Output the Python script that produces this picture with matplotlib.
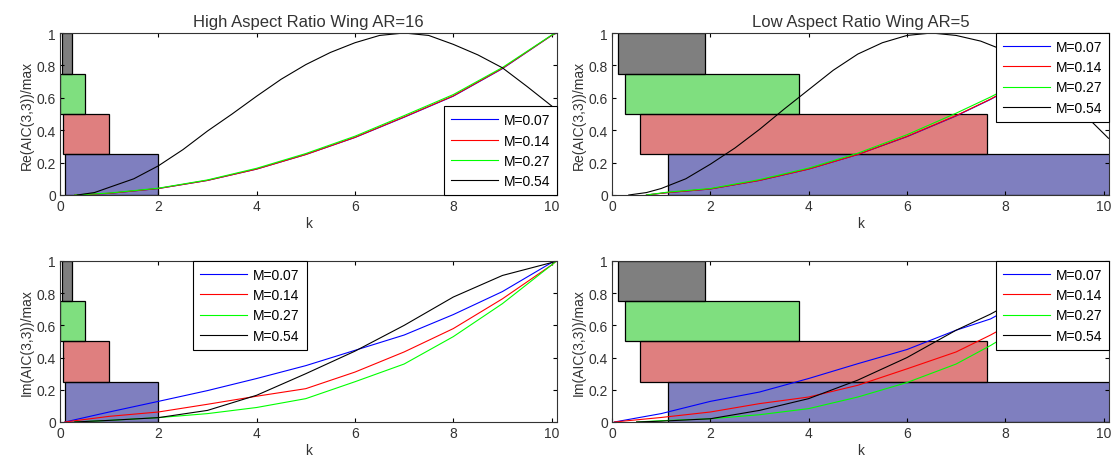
import matplotlib
matplotlib.use("Agg")
import matplotlib.pyplot as plt
from matplotlib.patches import Rectangle

plt.rcParams['font.family'] = ['Liberation Sans', 'DejaVu Sans']
plt.rcParams['font.size'] = 10

mach_labels = ['M=0.07', 'M=0.14', 'M=0.27', 'M=0.54']
line_colors = ['#0000ff', '#ff0000', '#00ff00', '#000000']

# k ranges of the shaded bands (one per Mach number), y band 0-0.25 ... 0.75-1
band_y = [0.0, 0.25, 0.5, 0.75]
band_colors = ['#000080', '#c00000', '#00c000', '#000000']
hi_band_start = [0.10, 0.05, 0.0, 0.03]
hi_band_end = [2.0, 1.0, 0.5, 0.25]
lo_band_start = [1.14, 0.56, 0.27, 0.12]
lo_band_end = [15.0, 7.62, 3.81, 1.89]

# High aspect ratio, real part
hi_re_k = [0.3, 1, 2, 3, 4, 5, 6, 7, 8, 9, 10, 10.1]
hi_re_m007 = [0, 0.010, 0.040, 0.090, 0.160, 0.250, 0.355, 0.480, 0.610, 0.780, 0.985, 1.0]
hi_re_m014 = [0, 0.010, 0.040, 0.090, 0.160, 0.250, 0.356, 0.482, 0.612, 0.782, 0.985, 1.0]
hi_re_m027 = [0, 0.012, 0.042, 0.093, 0.165, 0.256, 0.363, 0.490, 0.620, 0.787, 0.987, 1.0]
hi_re_k054 = [0.35, 0.7, 1, 1.5, 2, 2.5, 3, 3.5, 4, 4.5, 5, 5.5, 6, 6.5, 7, 7.5,
              8, 8.5, 9, 9.5, 10, 10.1]
hi_re_m054 = [0, 0.015, 0.047, 0.10, 0.18, 0.28, 0.395, 0.50, 0.61, 0.715, 0.805, 0.88,
              0.94, 0.985, 1.0, 0.985, 0.93, 0.865, 0.785, 0.67, 0.55, 0.52]

# Low aspect ratio, real part
lo_re_k = [0.7, 1.14, 2, 3, 4, 5, 6, 7, 7.7, 8, 9, 10, 10.1]
lo_re_m007 = [0, 0.015, 0.037, 0.090, 0.160, 0.250, 0.360, 0.488, 0.590, 0.640, 0.810, 0.985, 1.0]
lo_re_m014 = [0, 0.015, 0.037, 0.090, 0.160, 0.250, 0.362, 0.490, 0.592, 0.642, 0.812, 0.985, 1.0]
lo_re_m027 = [0, 0.018, 0.040, 0.095, 0.166, 0.258, 0.372, 0.505, 0.605, 0.652, 0.818, 0.988, 1.0]
lo_re_k054 = [0.34, 0.7, 1, 1.5, 2, 2.5, 3, 3.5, 4, 4.5, 5, 5.5, 6, 6.5, 7, 7.5,
              8, 8.5, 9, 9.5, 10, 10.1]
lo_re_m054 = [0, 0.015, 0.04, 0.10, 0.19, 0.29, 0.405, 0.53, 0.65, 0.77, 0.87, 0.94,
              0.985, 1.0, 0.985, 0.95, 0.89, 0.80, 0.68, 0.53, 0.38, 0.35]

# High aspect ratio, imaginary part
hi_im_k = [0.1, 1, 2, 3, 4, 5, 6, 7, 8, 9, 10, 10.1]
hi_im_m007 = [0, 0.062, 0.128, 0.195, 0.270, 0.350, 0.445, 0.540, 0.667, 0.810, 0.990, 1.0]
hi_im_m014 = [0, 0.035, 0.062, 0.110, 0.160, 0.207, 0.310, 0.435, 0.580, 0.765, 0.975, 1.0]
hi_im_k_slow = [0.3, 1, 2, 3, 4, 5, 6, 7, 8, 9, 10, 10.1]
hi_im_m027 = [0, 0.010, 0.027, 0.052, 0.090, 0.145, 0.250, 0.360, 0.530, 0.735, 0.975, 1.0]
hi_im_m054 = [0, 0.010, 0.027, 0.072, 0.166, 0.300, 0.440, 0.600, 0.776, 0.910, 0.990, 1.0]

# Low aspect ratio, imaginary part
lo_im_k = [0.05, 1, 2, 3, 4, 5, 6, 7, 7.7, 8, 9, 10, 10.1]
lo_im_m007 = [0, 0.052, 0.128, 0.186, 0.270, 0.362, 0.450, 0.570, 0.640, 0.690, 0.840, 0.990, 1.0]
lo_im_m014 = [0, 0.028, 0.062, 0.114, 0.155, 0.228, 0.330, 0.435, 0.540, 0.590, 0.770, 0.975, 1.0]
lo_im_k_slow = [0.5, 1, 2, 3, 4, 5, 6, 7, 7.7, 8, 9, 10, 10.1]
lo_im_m027 = [0, 0.008, 0.020, 0.045, 0.083, 0.155, 0.245, 0.360, 0.475, 0.530, 0.730, 0.970, 1.0]
lo_im_m054 = [0, 0.005, 0.020, 0.072, 0.145, 0.260, 0.400, 0.570, 0.670, 0.720, 0.900, 0.990, 1.0]

fig = plt.figure(figsize=(11.14, 4.64), dpi=100)
ax_hi_re = fig.add_axes([0.0539, 0.5776, 0.4461, 0.3491])
ax_lo_re = fig.add_axes([0.5494, 0.5776, 0.4461, 0.3491])
ax_hi_im = fig.add_axes([0.0539, 0.0884, 0.4461, 0.3470])
ax_lo_im = fig.add_axes([0.5494, 0.0884, 0.4461, 0.3470])


def draw_bands(ax, starts, ends):
    for x0, x1, y0, c in zip(starts, ends, band_y, band_colors):
        ax.add_patch(Rectangle((x0, y0), x1 - x0, 0.25, facecolor=c, alpha=0.5,
                               edgecolor='none', zorder=1))
        ax.add_patch(Rectangle((x0, y0), x1 - x0, 0.25, facecolor='none',
                               edgecolor='black', lw=0.9, zorder=1.5))


def draw_lines(ax, xs, ys):
    lines = []
    for x, y, c in zip(xs, ys, line_colors):
        lines += ax.plot(x, y, color=c, lw=0.8, zorder=2)
    return lines


def style(ax, ylabel):
    ax.set_xlim(0, 10.11)
    ax.set_ylim(0, 1)
    ax.set_xticks([0, 2, 4, 6, 8, 10])
    ax.set_yticks([0, 0.2, 0.4, 0.6, 0.8, 1])
    ax.set_yticklabels(['0', '0.2', '0.4', '0.6', '0.8', '1'])
    ax.tick_params(direction='in', top=True, right=True, length=3, width=0.8,
                   labelcolor='#333333', pad=3)
    for s in ax.spines.values():
        s.set_linewidth(0.8)
        s.set_color('#333333')
    ax.set_xlabel('k', color='#333333', labelpad=2)
    ax.set_ylabel(ylabel, color='#333333', labelpad=2)


def legend(ax, lines, **kw):
    leg = ax.legend(lines, mach_labels, fancybox=False, framealpha=1, edgecolor='black',
                    borderaxespad=0, handlelength=3.4, labelspacing=0.45,
                    borderpad=0.5, handletextpad=0.4, **kw)
    leg.get_frame().set_linewidth(0.8)
    leg.set_zorder(5)


# top left
draw_bands(ax_hi_re, hi_band_start, hi_band_end)
lines = draw_lines(ax_hi_re, [hi_re_k, hi_re_k, hi_re_k, hi_re_k054],
                   [hi_re_m007, hi_re_m014, hi_re_m027, hi_re_m054])
style(ax_hi_re, 'Re(AIC(3,3))/max')
ax_hi_re.set_title('High Aspect Ratio Wing AR=16', color='#333333', pad=5)
legend(ax_hi_re, lines, loc='lower right')

# top right
draw_bands(ax_lo_re, lo_band_start, lo_band_end)
lines = draw_lines(ax_lo_re, [lo_re_k, lo_re_k, lo_re_k, lo_re_k054],
                   [lo_re_m007, lo_re_m014, lo_re_m027, lo_re_m054])
style(ax_lo_re, 'Re(AIC(3,3))/max')
ax_lo_re.set_title('Low Aspect Ratio Wing AR=5', color='#333333', pad=5)
legend(ax_lo_re, lines, loc='upper right')

# bottom left
draw_bands(ax_hi_im, hi_band_start, hi_band_end)
lines = draw_lines(ax_hi_im, [hi_im_k, hi_im_k, hi_im_k_slow, hi_im_k_slow],
                   [hi_im_m007, hi_im_m014, hi_im_m027, hi_im_m054])
style(ax_hi_im, 'Im(AIC(3,3))/max')
legend(ax_hi_im, lines, loc='upper left', bbox_to_anchor=(0.268, 1.0))

# bottom right
draw_bands(ax_lo_im, lo_band_start, lo_band_end)
lines = draw_lines(ax_lo_im, [lo_im_k, lo_im_k, lo_im_k_slow, lo_im_k_slow],
                   [lo_im_m007, lo_im_m014, lo_im_m027, lo_im_m054])
style(ax_lo_im, 'Im(AIC(3,3))/max')
legend(ax_lo_im, lines, loc='upper right')

fig.savefig('out.png', dpi=100)
